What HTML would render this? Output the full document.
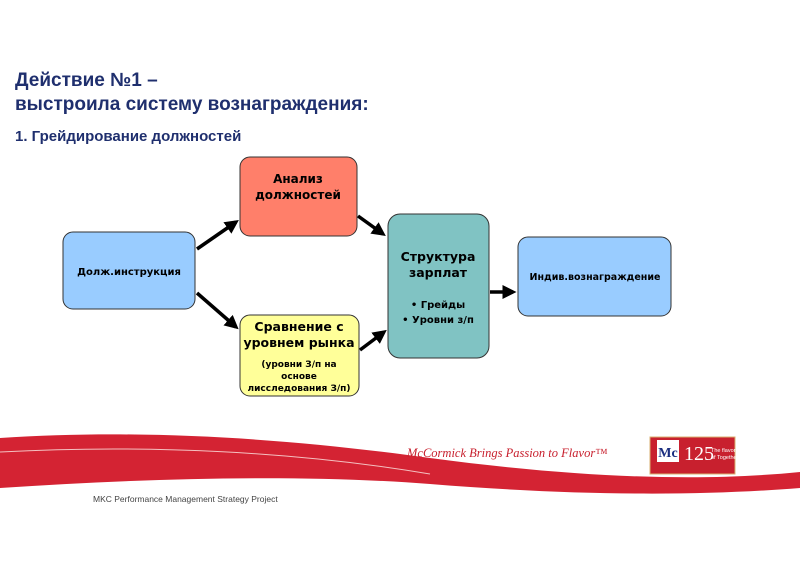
<html><head><style>body{margin:0;width:800px;height:565px;overflow:hidden;background:#fff;font-family:"Liberation Sans",sans-serif}</style></head><body>
<svg width="800" height="565" xmlns="http://www.w3.org/2000/svg" font-family="'DejaVu Sans','Liberation Sans',sans-serif">
<defs><marker id="a" markerWidth="4" markerHeight="4" refX="3" refY="2" orient="auto"><path d="M0,0L4,2L0,4z" fill="#000"/></marker></defs>
<text x="15" y="86" font-family="Liberation Sans" font-weight="bold" font-size="19" fill="#1f2f6e">Действие №1 –</text>
<text x="15" y="110" font-family="Liberation Sans" font-weight="bold" font-size="19" fill="#1f2f6e">выстроила систему вознаграждения:</text>
<text x="15" y="141" font-family="Liberation Sans" font-weight="bold" font-size="15" fill="#1f2f6e">1. Грейдирование должностей</text>
<g stroke="#000" stroke-width="3.5" marker-end="url(#a)">
<line x1="197" y1="249" x2="236" y2="222"/><line x1="197" y1="293" x2="236" y2="327"/>
<line x1="358" y1="216" x2="383" y2="234"/><line x1="360" y1="350" x2="384" y2="332"/>
<line x1="490" y1="292" x2="513" y2="292"/></g>
<g stroke="#333" stroke-width="1">
<rect x="63" y="232" width="132" height="77" rx="10" fill="#99ccff"/>
<rect x="240" y="157" width="117" height="79" rx="10" fill="#ff7f6a"/>
<rect x="240" y="315" width="119" height="81" rx="10" fill="#ffff99"/>
<rect x="388" y="214" width="101" height="144" rx="12" fill="#80c3c3"/>
<rect x="518" y="237" width="153" height="79" rx="10" fill="#99ccff"/></g>
<g font-weight="bold" text-anchor="middle" fill="#000">
<text x="129" y="275" font-size="10">Долж.инструкция</text>
<text x="298" y="183" font-size="12">Анализ</text><text x="298" y="199" font-size="12">должностей</text>
<text x="299" y="331" font-size="12.5">Сравнение с</text><text x="299" y="347" font-size="12.5">уровнем рынка</text>
<text x="299" y="367" font-size="9">(уровни З/п на</text><text x="299" y="379" font-size="9">основе</text><text x="299" y="391" font-size="9">лисследования З/п)</text>
<text x="438" y="261" font-size="12.5">Структура</text><text x="438" y="277" font-size="12.5">зарплат</text>
<text x="438" y="308" font-size="10">• Грейды</text><text x="438" y="323" font-size="10">• Уровни з/п</text>
<text x="595" y="280" font-size="9.5">Индив.вознаграждение</text></g>
<path d="M0,438 C150,428 300,440 430,458 C580,478 700,482 800,472 L800,488 C700,496 580,496 430,484 C300,474 150,478 0,488 Z" fill="#d42333"/>
<path d="M0,452 C150,444 300,452 430,474" stroke="#f4c0c0" stroke-width="1" fill="none"/>
<rect x="650" y="437" width="85" height="37" fill="#c8202e" stroke="#d9b070"/>
<rect x="657" y="440" width="22" height="22" fill="#fff"/><text x="668" y="457" font-size="14" font-weight="bold" fill="#1a2e80" text-anchor="middle" font-family="Liberation Serif">Mc</text>
<text x="684" y="460" font-size="20" fill="#fff" font-family="Liberation Serif">125</text>
<text x="711" y="452" font-size="5.5" fill="#fff" font-family="Liberation Sans">The flavor</text><text x="711" y="459" font-size="5.5" fill="#fff" font-family="Liberation Sans">of Together</text>
<text x="407" y="457" font-size="12.5" font-style="italic" fill="#c8202e" font-family="Liberation Serif">McCormick Brings Passion to Flavor™</text>
<text x="93" y="502" font-size="8.5" fill="#444" font-family="Liberation Sans">MKC Performance Management Strategy Project</text>
</svg></body></html>
